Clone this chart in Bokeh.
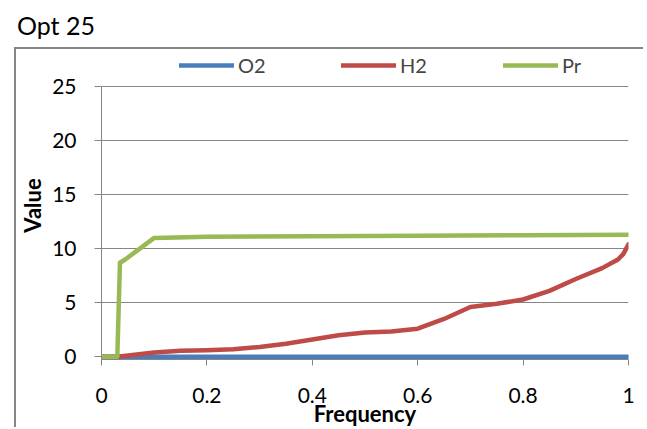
from bokeh.plotting import figure
from bokeh.models import Range1d, Legend, LegendItem, Div, FixedTicker
from bokeh.layouts import column
from bokeh.embed import file_html
from bokeh.resources import INLINE

# ---- data ----
title_text = "Opt 25"
freq_o2 = [0.0, 0.2, 0.4, 0.6, 0.8, 1.0]
o2 = [0, 0, 0, 0, 0, 0]
freq_h2 = [0.0, 0.03, 0.1, 0.15, 0.2, 0.25, 0.3, 0.35, 0.4, 0.45, 0.5, 0.55,
           0.6, 0.65, 0.7, 0.75, 0.8, 0.85, 0.9, 0.95, 0.98, 0.99, 1.0]
h2 = [0, 0, 0.4, 0.55, 0.6, 0.7, 0.9, 1.2, 1.6, 2.0, 2.25, 2.35,
      2.6, 3.5, 4.6, 4.9, 5.3, 6.1, 7.2, 8.2, 9.0, 9.5, 10.4]
freq_pr = [0.0, 0.03, 0.035, 0.045, 0.1, 0.2, 0.4, 0.6, 0.8, 1.0]
pr = [0, 0, 8.7, 9.0, 11.0, 11.1, 11.15, 11.2, 11.25, 11.3]
series_names = ["O2", "H2", "Pr"]
series_colors = ["#4A7EBB", "#BE4B48", "#98B954"]
x_ticks = [0, 0.2, 0.4, 0.6, 0.8, 1.0]
x_tick_labels = {0: "0", 0.2: "0.2", 0.4: "0.4", 0.6: "0.6", 0.8: "0.8", 1.0: "1"}
y_ticks = [0, 5, 10, 15, 20, 25]

FONT = "Lato"
GRAY = "#868686"

title_div = Div(text=title_text, width=200, height=47, margin=(0, 0, 0, 0),
                styles={"font-family": FONT, "font-size": "25px", "color": "black",
                        "padding-top": "10px", "padding-left": "17px",
                        "line-height": "1.2"})

W, H = 629, 380
p = figure(width=W, height=H, output_backend="svg", toolbar_location=None,
           x_range=Range1d(0, 1), y_range=Range1d(-0.25, 28.24),
           min_border_left=84, min_border_right=17, min_border_top=2,
           min_border_bottom=70, margin=(0, 0, 0, 14),
           styles={"border-left": f"2px solid {GRAY}", "border-top": f"2px solid {GRAY}"})
p.outline_line_color = None
p.background_fill_color = "white"
p.border_fill_color = "white"

p.xgrid.grid_line_color = None
p.ygrid.grid_line_color = GRAY
p.ygrid.grid_line_width = 1

p.xaxis.ticker = FixedTicker(ticks=x_ticks)
p.xaxis.major_label_overrides = x_tick_labels
p.yaxis.ticker = FixedTicker(ticks=y_ticks)
p.yaxis.bounds = (-0.25, 25)
for ax in (p.xaxis[0], p.yaxis[0]):
    ax.axis_line_color = GRAY
    ax.major_tick_line_color = GRAY
    ax.minor_tick_line_color = None
    ax.major_tick_in = 0
    ax.major_label_text_font = FONT
    ax.major_label_text_font_size = "21px"
    ax.major_label_text_color = "black"
    ax.axis_label_text_font = FONT
    ax.axis_label_text_font_style = "bold"
    ax.axis_label_text_font_size = "22px"
    ax.axis_label_text_color = "black"
p.xaxis.major_tick_out = 6
p.yaxis.major_tick_out = 7
p.xaxis.major_label_standoff = 22
p.yaxis.major_label_standoff = 18
p.xaxis.axis_label = "Frequency"
p.yaxis.axis_label = "Value"
p.xaxis.axis_label_standoff = -6
p.yaxis.axis_label_standoff = 3

r_o2 = p.line(freq_o2, o2, line_color=series_colors[0], line_width=4.5,
              line_cap="round", line_join="round")
r_h2 = p.line(freq_h2, h2, line_color=series_colors[1], line_width=4.5,
              line_cap="round", line_join="round")
r_pr = p.line(freq_pr, pr, line_color=series_colors[2], line_width=4.5,
              line_cap="round", line_join="round")

legend = Legend(items=[LegendItem(label=n, renderers=[r]) for n, r in
                       zip(series_names, [r_o2, r_h2, r_pr])],
                orientation="horizontal", location=(78, 282),
                glyph_width=55, glyph_height=20, label_width=90, label_height=20,
                label_standoff=4, spacing=13, padding=0, margin=0,
                label_text_font=FONT, label_text_font_size="20px",
                border_line_alpha=0, background_fill_alpha=0)
p.add_layout(legend, "center")

layout = column(title_div, p)
open("out.html", "w").write(file_html(layout, INLINE))
